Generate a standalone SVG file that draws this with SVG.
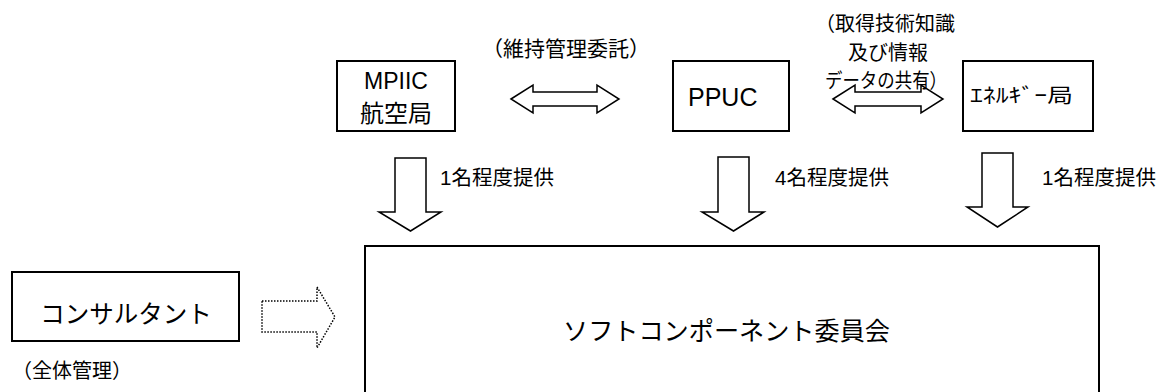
<svg xmlns="http://www.w3.org/2000/svg" width="1160" height="392" viewBox="0 0 1160 392">
<style>
  .box{fill:#fff;stroke:#000;stroke-width:2}
  .arr{fill:#fff;stroke:#000;stroke-width:1.5;stroke-linejoin:miter}
  .dot{fill:#fff;stroke:#000;stroke-width:1.5;stroke-dasharray:1.5 1.5}
  .t{font-family:"Liberation Sans","Noto Sans CJK JP",sans-serif;fill:#000}
  .j{font-family:"Noto Sans CJK JP","Liberation Sans",sans-serif;fill:#000}
</style>
<rect width="1160" height="392" fill="#fff"/>
<g id="mpiic">
  <rect class="box" x="337" y="61" width="118" height="70"/>
  <text class="t" x="396" y="89" font-size="23" text-anchor="middle">MPIIC</text>
  <text class="j" x="396" y="122" font-size="24" text-anchor="middle">航空局</text>
</g>
<g id="ppuc">
  <rect class="box" x="673" y="61" width="116" height="70"/>
  <text class="t" x="688" y="106" font-size="25">PPUC</text>
</g>
<g id="energy">
  <rect class="box" x="963" y="61" width="130" height="70"/>
  <text class="j" x="970" y="103" font-size="20" textLength="103" lengthAdjust="spacingAndGlyphs">ｴﾈﾙｷﾞｰ局</text>
</g>
<g id="consultant">
  <rect class="box" x="12" y="272" width="227" height="69"/>
  <text class="j" x="126" y="323" font-size="24.5" text-anchor="middle">コンサルタント</text>
  <text class="j" x="12" y="378" font-size="20">（全体管理）</text>
</g>
<g id="committee">
  <rect class="box" x="365" y="246" width="734" height="170"/>
  <text class="j" x="563" y="340" font-size="25" textLength="327" lengthAdjust="spacingAndGlyphs">ソフトコンポーネント委員会</text>
</g>
<g id="connectors">
  <path class="arr" d="M511,99 L533,85 V92 H597 V85 L619,99 L597,113 V106 H533 V113 Z"/>
  <path class="arr" d="M833,99 L855,85 V92 H921 V85 L943,99 L921,113 V106 H855 V113 Z"/>
  <path class="arr" d="M395,158 H426 V212 H441 L410.5,231 L379,212 H395 Z"/>
  <path class="arr" d="M718,157 H749 V212 H764 L733.5,231 L702,212 H718 Z"/>
  <path class="arr" d="M982,153 H1013 V207 H1028 L997.5,227 L967,207 H982 Z"/>
  <path class="dot" d="M262,301 H317 V287 L335,317 L317,348 V332 H262 Z"/>
  <text class="j" x="482" y="56" font-size="21">（維持管理委託）</text>
  <text class="j" x="815" y="31" font-size="20">（取得技術知識</text>
  <text class="j" x="888" y="60" font-size="20" text-anchor="middle">及び情報</text>
  <text class="j" x="825" y="88" font-size="20" textLength="122" lengthAdjust="spacingAndGlyphs">データの共有）</text>
  <text class="t" x="440" y="185" font-size="20.5">1名程度提供</text>
  <text class="t" x="775" y="185" font-size="20.5">4名程度提供</text>
  <text class="t" x="1042" y="185" font-size="20.5">1名程度提供</text>
</g>
</svg>
